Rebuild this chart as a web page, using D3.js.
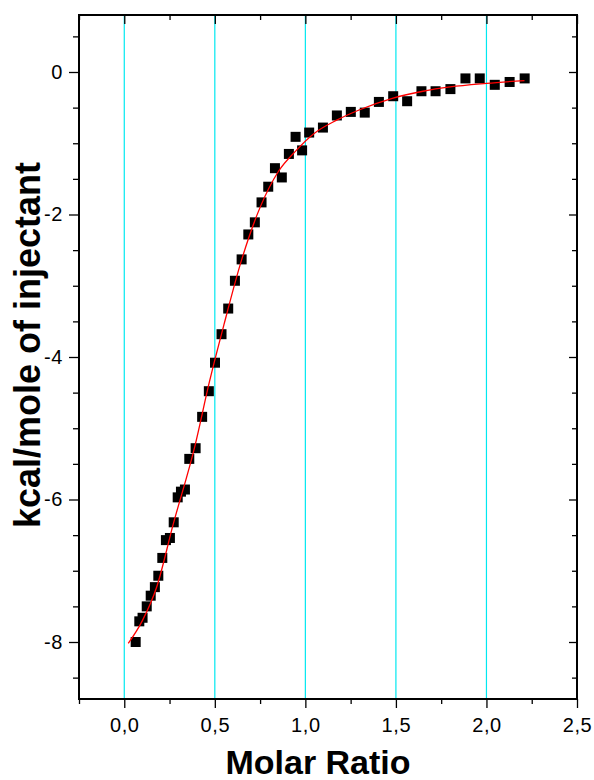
<!DOCTYPE html>
<html>
<head>
<meta charset="utf-8">
<script src="https://cdn.jsdelivr.net/npm/d3@7"></script>
<style>
  html, body { margin: 0; padding: 0; background: #fff; }
  svg { display: block; font-family: Helvetica, Arial, "Liberation Sans", sans-serif; }
</style>
</head>
<body>
<svg id="chart" width="594" height="780"></svg>
<script>
// integrated heats per injection
const ratio = [0.063, 0.083, 0.101, 0.124, 0.146, 0.169, 0.188, 0.210, 0.230, 0.252,
  0.273, 0.295, 0.313, 0.335, 0.359, 0.394, 0.430, 0.467, 0.501, 0.537,
  0.574, 0.611, 0.648, 0.685, 0.721, 0.758, 0.795, 0.832, 0.870, 0.909,
  0.946, 0.982, 1.021, 1.097, 1.174, 1.251, 1.328, 1.406, 1.485, 1.562,
  1.641, 1.719, 1.801, 1.884, 1.963, 2.046, 2.128, 2.211];
const heat = [-8.00, -7.71, -7.66, -7.50, -7.35, -7.23, -7.07, -6.82, -6.57, -6.54,
  -6.32, -5.97, -5.89, -5.86, -5.43, -5.28, -4.84, -4.48, -4.08, -3.68,
  -3.32, -2.93, -2.63, -2.28, -2.11, -1.83, -1.61, -1.35, -1.48, -1.15,
  -0.91, -1.10, -0.85, -0.78, -0.61, -0.56, -0.57, -0.42, -0.34, -0.41,
  -0.27, -0.27, -0.24, -0.09, -0.09, -0.18, -0.14, -0.09];

// fitted curve
const fitRatio = [0.022, 0.10, 0.18, 0.27, 0.39, 0.47, 0.55, 0.65, 0.75, 0.85,
  0.95, 1.05, 1.17, 1.30, 1.48, 1.65, 1.80, 2.00, 2.21];
const fitHeat = [-8.02, -7.70, -7.22, -6.35, -5.25, -4.35, -3.55, -2.62, -1.90, -1.40,
  -1.10, -0.86, -0.68, -0.53, -0.37, -0.27, -0.21, -0.16, -0.12];

// ticks
const xMajor = [0, 0.5, 1, 1.5, 2, 2.5];
const xMinor = [-0.25, 0.25, 0.75, 1.25, 1.75, 2.25];
const xGrid = [0, 0.5, 1, 1.5, 2];
const yMajor = [0, -2, -4, -6, -8];
const yMinor = [0.5, -0.5, -1, -1.5, -2.5, -3, -3.5, -4.5, -5, -5.5, -6.5, -7, -7.5, -8.5];

const xTitle = 'Molar Ratio';
const yTitle = 'kcal/mole of injectant';

const box = { left: 79, top: 15, right: 577, bottom: 699 };
const font = 'Helvetica, Arial, "Liberation Sans", sans-serif';

const locale = d3.formatLocale({ decimal: ',', thousands: '.', grouping: [3], currency: ['', ''], minus: '-' });
const fmtX = locale.format('.1f');
const fmtY = locale.format('d');

const svg = d3.select('#chart');

const x = d3.scaleLinear().domain([-0.25, 2.5]).range([box.left, box.right]);
const y = d3.scaleLinear().domain([0.8, -8.8]).range([box.top, box.bottom]);

// cyan grid lines
svg.append('g')
  .selectAll('line')
  .data(xGrid)
  .join('line')
  .attr('x1', d => x(d)).attr('x2', d => x(d))
  .attr('y1', box.top).attr('y2', box.bottom)
  .attr('stroke', '#00e8f0')
  .attr('stroke-width', 1.2);

// axes: outward ticks bottom/left with labels, inward ticks on top/right
function styleAxis(g) {
  g.select('.domain').remove();
  g.selectAll('.tick line').attr('stroke', '#000').attr('stroke-width', 1.3);
  g.selectAll('.tick text')
    .attr('fill', '#000')
    .attr('font-size', 20)
    .attr('letter-spacing', 0.6)
    .attr('font-family', font);
}

svg.append('g')
  .attr('transform', `translate(0,${box.bottom})`)
  .call(d3.axisBottom(x).tickValues(xMajor).tickSize(9).tickPadding(10).tickFormat(fmtX))
  .call(styleAxis);
svg.append('g')
  .attr('transform', `translate(0,${box.bottom})`)
  .call(d3.axisBottom(x).tickValues(xMinor).tickSize(5).tickFormat(''))
  .call(styleAxis);

svg.append('g')
  .attr('transform', `translate(0,${box.top})`)
  .call(d3.axisBottom(x).tickValues(xMajor).tickSize(9).tickFormat(''))
  .call(styleAxis);
svg.append('g')
  .attr('transform', `translate(0,${box.top})`)
  .call(d3.axisBottom(x).tickValues(xMinor).tickSize(5).tickFormat(''))
  .call(styleAxis);

svg.append('g')
  .attr('transform', `translate(${box.left},0)`)
  .call(d3.axisLeft(y).tickValues(yMajor).tickSize(10).tickPadding(6).tickFormat(fmtY))
  .call(styleAxis);
svg.append('g')
  .attr('transform', `translate(${box.left},0)`)
  .call(d3.axisLeft(y).tickValues(yMinor).tickSize(6).tickFormat(''))
  .call(styleAxis);

svg.append('g')
  .attr('transform', `translate(${box.right},0)`)
  .call(d3.axisLeft(y).tickValues(yMajor).tickSize(8).tickFormat(''))
  .call(styleAxis);
svg.append('g')
  .attr('transform', `translate(${box.right},0)`)
  .call(d3.axisLeft(y).tickValues(yMinor).tickSize(5).tickFormat(''))
  .call(styleAxis);

// frame
svg.append('rect')
  .attr('x', box.left).attr('y', box.top)
  .attr('width', box.right - box.left).attr('height', box.bottom - box.top)
  .attr('fill', 'none')
  .attr('stroke', '#000')
  .attr('stroke-width', 2);

// data squares
const sq = 10;
svg.append('g')
  .selectAll('rect')
  .data(d3.zip(ratio, heat))
  .join('rect')
  .attr('x', d => x(d[0]) - sq / 2)
  .attr('y', d => y(d[1]) - sq / 2)
  .attr('width', sq).attr('height', sq)
  .attr('fill', '#000');

// fit line
const line = d3.line()
  .x(d => x(d[0]))
  .y(d => y(d[1]))
  .curve(d3.curveMonotoneX);
svg.append('path')
  .datum(d3.zip(fitRatio, fitHeat))
  .attr('d', line)
  .attr('fill', 'none')
  .attr('stroke', '#ff0000')
  .attr('stroke-width', 1.3);

// titles
svg.append('text')
  .attr('x', 318)
  .attr('y', 774)
  .attr('text-anchor', 'middle')
  .attr('font-size', 34)
  .attr('font-weight', 'bold')
  .attr('font-family', font)
  .text(xTitle);

svg.append('text')
  .attr('transform', 'translate(40,345) rotate(-90)')
  .attr('text-anchor', 'middle')
  .attr('font-size', 36)
  .attr('font-weight', 'bold')
  .attr('font-family', font)
  .text(yTitle);
</script>
</body>
</html>
